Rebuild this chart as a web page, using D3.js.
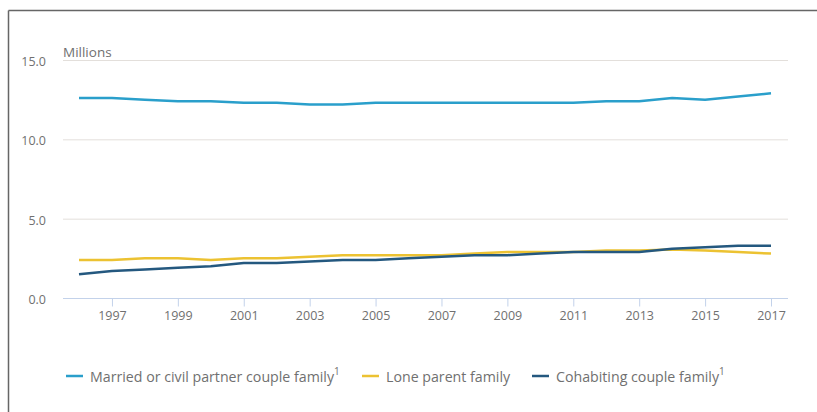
<!DOCTYPE html>
<html>
<head>
<meta charset="utf-8">
<script src="https://d3js.org/d3.v7.min.js"></script>
<style>
  body { margin: 0; background: #fff; }
  text { font-family: "Open Sans", sans-serif; fill: #707070; }
</style>
</head>
<body>
<div id="chart"></div>
<script>
var years = d3.range(1996, 2018);
var married = [12.6, 12.6, 12.5, 12.4, 12.4, 12.3, 12.3, 12.2, 12.2, 12.3, 12.3, 12.3, 12.3, 12.3, 12.3, 12.3, 12.4, 12.4, 12.6, 12.5, 12.7, 12.9];
var loneParent = [2.4, 2.4, 2.5, 2.5, 2.4, 2.5, 2.5, 2.6, 2.7, 2.7, 2.7, 2.7, 2.8, 2.9, 2.9, 2.9, 3.0, 3.0, 3.05, 3.0, 2.9, 2.8];
var cohabiting = [1.5, 1.7, 1.8, 1.9, 2.0, 2.2, 2.2, 2.3, 2.4, 2.4, 2.5, 2.6, 2.7, 2.7, 2.8, 2.9, 2.9, 2.9, 3.1, 3.2, 3.3, 3.3];
var yTicks = [0, 5, 10, 15];
var xTicks = [1997, 1999, 2001, 2003, 2005, 2007, 2009, 2011, 2013, 2015, 2017];
var seriesNames = ["Married or civil partner couple family", "Lone parent family", "Cohabiting couple family"];
var seriesNotes = ["1", "", "1"];

var colors = ["#2a9fcb", "#ecc232", "#24587f"];
var series = [married, loneParent, cohabiting];

var W = 817, H = 412;
var svg = d3.select("#chart").append("svg")
  .attr("width", W).attr("height", H);

// frame (top and left edges visible)
svg.append("line").attr("x1", 8.5).attr("x2", W).attr("y1", 10.5).attr("y2", 10.5)
  .attr("stroke", "#666").attr("stroke-width", 1.5);
svg.append("line").attr("x1", 8.5).attr("x2", 8.5).attr("y1", 10.5).attr("y2", H)
  .attr("stroke", "#666").attr("stroke-width", 1.5);

var x = d3.scaleLinear().domain([1996, 2017]).range([79, 771]);
var y = d3.scaleLinear().domain([0, 15]).range([298, 60]);
var gridL = 63, gridR = 788;

// gridlines
svg.append("g").selectAll("line")
  .data(yTicks.filter(function(d){ return d > 0; }))
  .enter().append("line")
  .attr("x1", gridL).attr("x2", gridR)
  .attr("y1", function(d){ return y(d) + 0.5; })
  .attr("y2", function(d){ return y(d) + 0.5; })
  .attr("stroke", "#e3dfdb");

// y labels
svg.append("g").selectAll("text")
  .data(yTicks).enter().append("text")
  .attr("x", 46).attr("y", function(d){ return y(d) + 6; })
  .attr("text-anchor", "end")
  .style("font-size", "12.5px")
  .text(function(d){ return d3.format(".1f")(d); });

svg.append("text").attr("x", 63).attr("y", 57)
  .style("font-size", "13.5px").text("Millions");

// x axis
var xAxis = svg.append("g")
  .attr("transform", "translate(0," + 298.5 + ")")
  .call(d3.axisBottom(x).tickValues(xTicks).tickFormat(d3.format("d")).tickSize(8).tickPadding(5));
xAxis.select(".domain").remove();
xAxis.insert("line", ":first-child").attr("x1", gridL).attr("x2", gridR)
  .attr("stroke", "#c3d2ea");
xAxis.selectAll(".tick line").attr("stroke", "#c3d2ea");
xAxis.selectAll(".tick text").attr("fill", "#707070")
  .style("font-family", "Open Sans, sans-serif").style("font-size", "12.5px");

// lines
var line = d3.line()
  .x(function(d, i){ return x(years[i]); })
  .y(function(d){ return y(d); });

svg.append("g").selectAll("path")
  .data(series).enter().append("path")
  .attr("d", line)
  .attr("fill", "none")
  .attr("stroke", function(d, i){ return colors[i]; })
  .attr("stroke-width", 2.5)
  .attr("stroke-linejoin", "round");

// legend
var legendX = [66, 362, 532];
var legend = svg.append("g").selectAll("g")
  .data(seriesNames).enter().append("g")
  .attr("transform", function(d, i){ return "translate(" + legendX[i] + ",376)"; });
legend.append("line").attr("x1", 0).attr("x2", 17).attr("y1", 0).attr("y2", 0)
  .attr("stroke", function(d, i){ return colors[i]; }).attr("stroke-width", 2.5);
var lt = legend.append("text").attr("x", 24).attr("y", 6)
  .style("font-size", "14.2px");
lt.append("tspan").text(function(d){ return d; });
lt.append("tspan").attr("dy", -7).style("font-size", "10px")
  .text(function(d, i){ return seriesNotes[i]; });
</script>
</body>
</html>
